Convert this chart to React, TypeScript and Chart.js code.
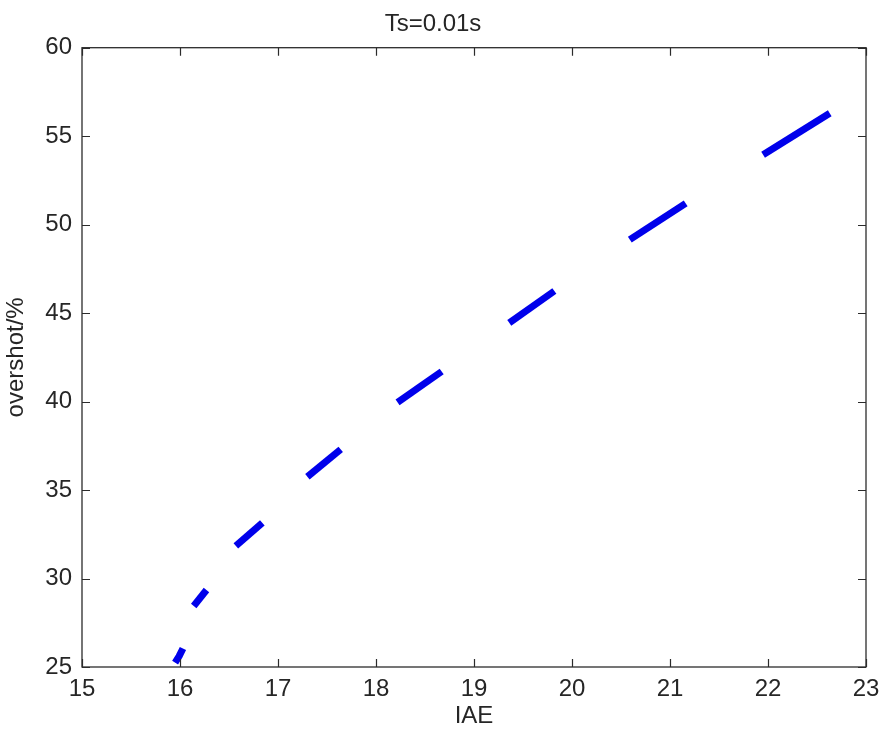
import React, { useEffect, useRef } from "react";
import { Chart, registerables } from "chart.js";

Chart.register(...registerables);

const titleText = "Ts=0.01s";
const xLabel = "IAE";
const yLabel = "overshot/%";
const xTicks = [15, 16, 17, 18, 19, 20, 21, 22, 23];
const yTicks = [25, 30, 35, 40, 45, 50, 55, 60];

// each sub-array is one visible dashed segment
const segIAE = [
  [15.95, 15.99, 16.03],
  [16.14, 16.27],
  [16.57, 16.84],
  [17.3, 17.64],
  [18.22, 18.67],
  [19.36, 19.82],
  [20.59, 21.16],
  [21.95, 22.63],
];
const segOvershoot = [
  [25.25, 25.6, 26.05],
  [28.45, 29.35],
  [31.85, 33.15],
  [35.75, 37.3],
  [39.95, 41.7],
  [44.45, 46.25],
  [49.15, 51.2],
  [53.95, 56.3],
];

const FONT = "'Liberation Sans', Arial, sans-serif";
const TEXT = "#262626";
const AXIS = "#2b2b2b";

const boxPlugin = {
  id: "matlabBox",
  afterDatasetsDraw(chart: any) {
    const { ctx, chartArea } = chart;
    const { left, right, top, bottom } = chartArea;
    const xs = chart.scales.x;
    const ys = chart.scales.y;
    const tl = 8;
    ctx.save();
    ctx.strokeStyle = AXIS;
    ctx.lineWidth = 1.2;
    ctx.beginPath();
    xTicks.forEach((v) => {
      const px = Math.round(xs.getPixelForValue(v)) + 0.5;
      ctx.moveTo(px, bottom);
      ctx.lineTo(px, bottom - tl);
      ctx.moveTo(px, top);
      ctx.lineTo(px, top + tl);
    });
    yTicks.forEach((v) => {
      const py = Math.round(ys.getPixelForValue(v)) + 0.5;
      ctx.moveTo(left, py);
      ctx.lineTo(left + tl, py);
      ctx.moveTo(right, py);
      ctx.lineTo(right - tl, py);
    });
    ctx.stroke();
    ctx.lineWidth = 1.3;
    ctx.strokeRect(left, top, right - left, bottom - top);
    ctx.restore();
  },
};

export default function App() {
  const ref = useRef<HTMLCanvasElement | null>(null);
  useEffect(() => {
    if (!ref.current) return;
    const datasets = segIAE.map((xs, i) => ({
      data: xs.map((x, j) => ({ x, y: segOvershoot[i][j] })),
      borderColor: "rgb(0,0,235)",
      backgroundColor: "rgb(0,0,235)",
      borderWidth: 7,
      borderCapStyle: "butt" as const,
      borderJoinStyle: "round" as const,
      pointRadius: 0,
      tension: 0,
      clip: 6,
    }));
    const chart = new Chart(ref.current, {
      type: "line",
      data: { datasets },
      options: {
        animation: false,
        responsive: false,
        maintainAspectRatio: false,
        layout: { padding: { left: 0, right: 18, top: 0, bottom: 0 } },
        plugins: {
          legend: { display: false },
          tooltip: { enabled: false },
          title: {
            display: true,
            text: titleText,
            color: TEXT,
            font: { family: FONT, size: 24, weight: "normal" },
            padding: { top: 9.5, bottom: 9.4 },
          },
        },
        scales: {
          x: {
            type: "linear",
            min: 15,
            max: 23,
            grid: { display: false, drawTicks: false },
            border: { display: false },
            afterBuildTicks: (s: any) => {
              s.ticks = xTicks.map((v) => ({ value: v }));
            },
            afterFit: (s: any) => {
              s.height = 66;
              s.paddingLeft = 0;
              s.paddingRight = 0;
            },
            ticks: {
              color: TEXT,
              font: { family: FONT, size: 24 },
              padding: 7.5,
              maxRotation: 0,
              autoSkip: false,
            },
            title: {
              display: true,
              text: xLabel,
              color: TEXT,
              font: { family: FONT, size: 24 },
              padding: { top: 0, bottom: 1.8 },
            },
          },
          y: {
            type: "linear",
            min: 25,
            max: 60,
            grid: { display: false, drawTicks: false },
            border: { display: false },
            afterBuildTicks: (s: any) => {
              s.ticks = yTicks.map((v) => ({ value: v }));
            },
            afterFit: (s: any) => {
              s.width = 82;
            },
            ticks: {
              color: TEXT,
              font: { family: FONT, size: 24 },
              padding: 10,
              autoSkip: false,
            },
            title: {
              display: true,
              text: yLabel,
              color: TEXT,
              font: { family: FONT, size: 24 },
              padding: { top: 2, bottom: 0 },
            },
          },
        },
      },
      plugins: [boxPlugin],
    });
    return () => chart.destroy();
  }, []);
  return (
    <div
      style={{
        position: "fixed",
        left: 0,
        top: 0,
        width: 884,
        height: 733,
        background: "#fff",
      }}
    >
      <canvas ref={ref} width={884} height={733} />
    </div>
  );
}
